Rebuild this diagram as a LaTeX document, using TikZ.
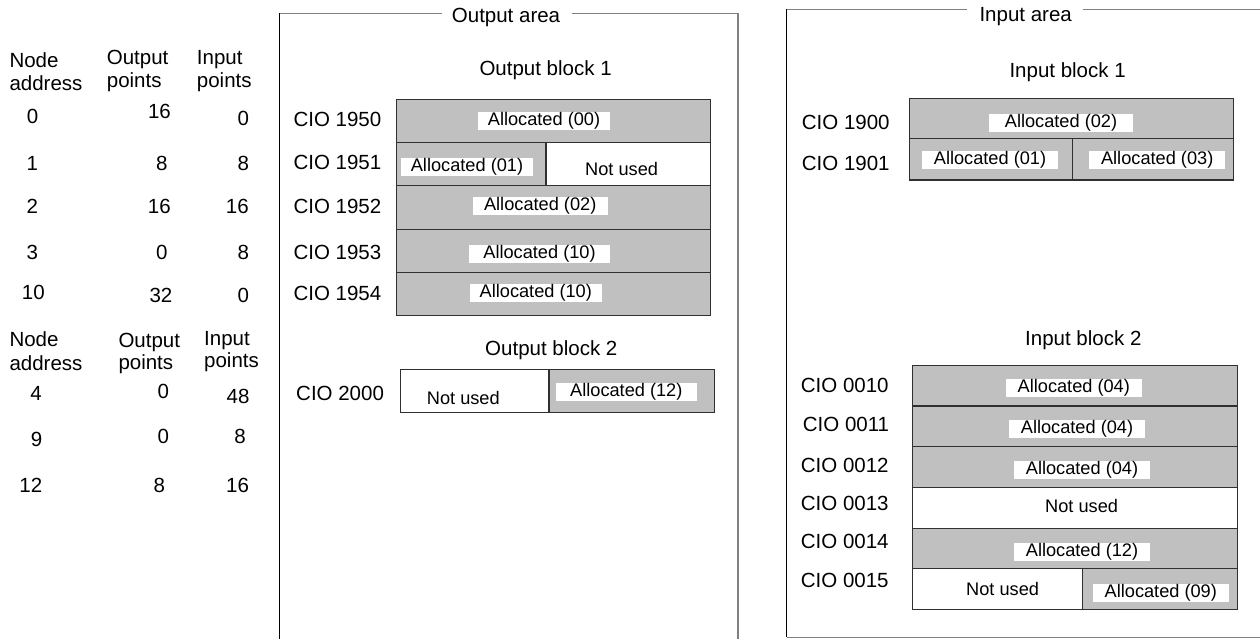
\documentclass[tikz,border=0pt]{standalone}
\usepackage{fontspec}
\setmainfont{Liberation Sans}
\definecolor{cellgray}{HTML}{C0C0C0}
\definecolor{boxline}{HTML}{303030}
\definecolor{framegray}{HTML}{808080}
\tikzset{
  big/.style={font=\fontsize{20.5}{24}\selectfont, inner sep=0pt},
  small/.style={font=\fontsize{18.2}{22}\selectfont, inner sep=0pt},
  tag/.style={small, fill=white, minimum height=17.7pt, minimum width=#1},
  tag/.default=135pt,
  cellg/.style={draw=boxline, fill=cellgray, line width=1.3pt},
  cellw/.style={draw=boxline, fill=white, line width=1.3pt},
  frameb/.style={draw=black, line width=1.2pt},
  frameg/.style={draw=framegray, line width=1.2pt},
  lw/.style={big, anchor=base west},
  lc/.style={big, anchor=base},
  sw/.style={small, anchor=base west},
}
\begin{document}
\begin{tikzpicture}[x=1pt,y=-1pt]
\useasboundingbox[fill=white] (0,0) rectangle (1260,639);

% ---------- frames ----------
\draw[frameg] (279.3,13.3) -- (441.7,13.3);
\draw[frameg] (571.7,13.3) -- (738,13.3) -- (738,639);
\draw[frameb] (279.3,13.3) -- (279.3,639);

\draw[frameg] (786.7,9.5) -- (966.7,9.5);
\draw[frameg] (1083.3,9.5) -- (1260,9.5);
\draw[frameg] (786.7,637.3) -- (1260,637.3);
\draw[frameb] (786.7,9.5) -- (786.7,637.3);

% ---------- output block 1 ----------
\draw[cellg] (396.7,99.3) rectangle (710.7,142.7);
\draw[cellg] (396.7,142.7) rectangle (546,185.7);
\draw[cellw] (546,142.7) rectangle (710.7,185.7);
\draw[cellg] (396.7,185.7) rectangle (710.7,229.3);
\draw[cellg] (396.7,229.3) rectangle (710.7,272.7);
\draw[cellg] (396.7,272.7) rectangle (710.7,315.7);

% ---------- output block 2 ----------
\draw[cellw] (400.3,369.3) rectangle (549,412.7);
\draw[cellg] (549,369.3) rectangle (714.3,412.7);

% ---------- input block 1 ----------
\draw[cellg] (909.3,98.3) rectangle (1233.3,138.3);
\draw[cellg] (909.3,138.3) rectangle (1072.3,180);
\draw[cellg] (1072.3,138.3) rectangle (1233.3,180);

% ---------- input block 2 ----------
\draw[cellg] (912.3,365.7) rectangle (1237.3,406);
\draw[cellg] (912.3,406) rectangle (1237.3,446.7);
\draw[cellg] (912.3,446.7) rectangle (1237.3,487.3);
\draw[cellw] (912.3,487.3) rectangle (1237.3,528.3);
\draw[cellg] (912.3,528.3) rectangle (1237.3,568.7);
\draw[cellw] (912.3,568.7) rectangle (1082.7,609.3);
\draw[cellg] (1082.7,568.7) rectangle (1237.3,609.3);

% ---------- left table, part 1 ----------
\node[lw] (h1a) at (9.3,68) {Node};
\node[lw] (h1b) at (9.3,90.5) {address};
\node[lw] (h1c) at (106.7,65) {Output};
\node[lw] (h1d) at (106.7,87.5) {points};
\node[lw] (h1e) at (196.7,65) {Input};
\node[lw] (h1f) at (196.7,87.5) {points};

\node[lc] (a0) at (32.5,124) {0};
\node[lc] (o0) at (159.5,119) {16};
\node[lc] (i0) at (243.3,126) {0};
\node[lc] (a1) at (32.3,171) {1};
\node[lc] (o1) at (161.7,171) {8};
\node[lc] (i1) at (243.3,171) {8};
\node[lc] (a2) at (32.3,214) {2};
\node[lc] (o2) at (159.3,214) {16};
\node[lc] (i2) at (237.3,214) {16};
\node[lc] (a3) at (32.3,259) {3};
\node[lc] (o3) at (161.7,259) {0};
\node[lc] (i3) at (243.3,259) {8};
\node[lc] (a10) at (33.3,299) {10};
\node[lc] (o10) at (161,302.5) {32};
\node[lc] (i10) at (243.3,302.5) {0};

% ---------- left table, part 2 ----------
\node[lw] (h2a) at (9.3,346.7) {Node};
\node[lw] (h2b) at (9.3,370.7) {address};
\node[lw] (h2c) at (118.3,347.3) {Output};
\node[lw] (h2d) at (118.3,369.3) {points};
\node[lw] (h2e) at (204,345) {Input};
\node[lw] (h2f) at (204,367.3) {points};

\node[lc] (a4) at (36,400) {4};
\node[lc] (o4) at (163.3,398.3) {0};
\node[lc] (i4) at (238,403.3) {48};
\node[lc] (a9) at (36.7,446.7) {9};
\node[lc] (o9) at (163.3,443.3) {0};
\node[lc] (i9) at (240,443.3) {8};
\node[lc] (a12) at (30.8,492.7) {12};
\node[lc] (o12) at (159.3,492.7) {8};
\node[lc] (i12) at (237.5,492.7) {16};

% ---------- output area labels ----------
\node[lw] (outtitle) at (451.7,22.7) {Output area};
\node[lw] (ob1) at (479.3,75.5) {Output block 1};
\node[lw] (c1950) at (293.3,126.7) {CIO 1950};
\node[lw] (c1951) at (293.3,170) {CIO 1951};
\node[lw] (c1952) at (293.3,213.3) {CIO 1952};
\node[lw] (c1953) at (293.3,259.3) {CIO 1953};
\node[lw] (c1954) at (293.3,300) {CIO 1954};
\node[lw] (ob2) at (485,355.7) {Output block 2};
\node[lw] (c2000) at (296,400.7) {CIO 2000};

\node[tag=132pt] (t00) at (544,121.2) {Allocated (00)};
\node[tag=132.6pt] (t01) at (467,167) {Allocated (01)};
\node[sw] (nu1951) at (585,175.7) {Not used};
\node[tag=135pt] (t02) at (540.2,205.8) {Allocated (02)};
\node[tag=141pt] (t10a) at (539.5,253.8) {Allocated (10)};
\node[tag=131.7pt] (t10b) at (535.8,293) {Allocated (10)};
\node[sw] (nu2000) at (426.7,404) {Not used};
\node[tag=140.7pt] (t12o) at (626.3,392) {Allocated (12)};

% ---------- input area labels ----------
\node[lw] (intitle) at (979.3,21.7) {Input area};
\node[lw] (ib1) at (1009.3,77.3) {Input block 1};
\node[lw] (c1900) at (801.7,130) {CIO 1900};
\node[lw] (c1901) at (801.7,170.7) {CIO 1901};
\node[tag=143.4pt] (t02i) at (1061,122.7) {Allocated (02)};
\node[tag=135.4pt] (t01i) at (990,160) {Allocated (01)};
\node[tag=135.7pt] (t03i) at (1157.2,159.7) {Allocated (03)};

\node[lw] (ib2) at (1025,345) {Input block 2};
\node[lw] (c0010) at (800.7,392.7) {CIO 0010};
\node[lw] (c0011) at (802.7,431.7) {CIO 0011};
\node[lw] (c0012) at (800.7,472.7) {CIO 0012};
\node[lw] (c0013) at (800.7,510.7) {CIO 0013};
\node[lw] (c0014) at (800.7,548.3) {CIO 0014};
\node[lw] (c0015) at (800.7,587.3) {CIO 0015};

\node[tag=135.7pt] (t04a) at (1073.8,388) {Allocated (04)};
\node[tag=136pt] (t04b) at (1077,428.8) {Allocated (04)};
\node[tag=136pt] (t04c) at (1082,469.8) {Allocated (04)};
\node[sw] (nu0013) at (1045,512.7) {Not used};
\node[tag=136pt] (t12i) at (1082,551.7) {Allocated (12)};
\node[sw] (nu0015) at (966,595) {Not used};
\node[tag=136.3pt] (t09) at (1160.8,592.8) {Allocated (09)};
\end{tikzpicture}
\end{document}
